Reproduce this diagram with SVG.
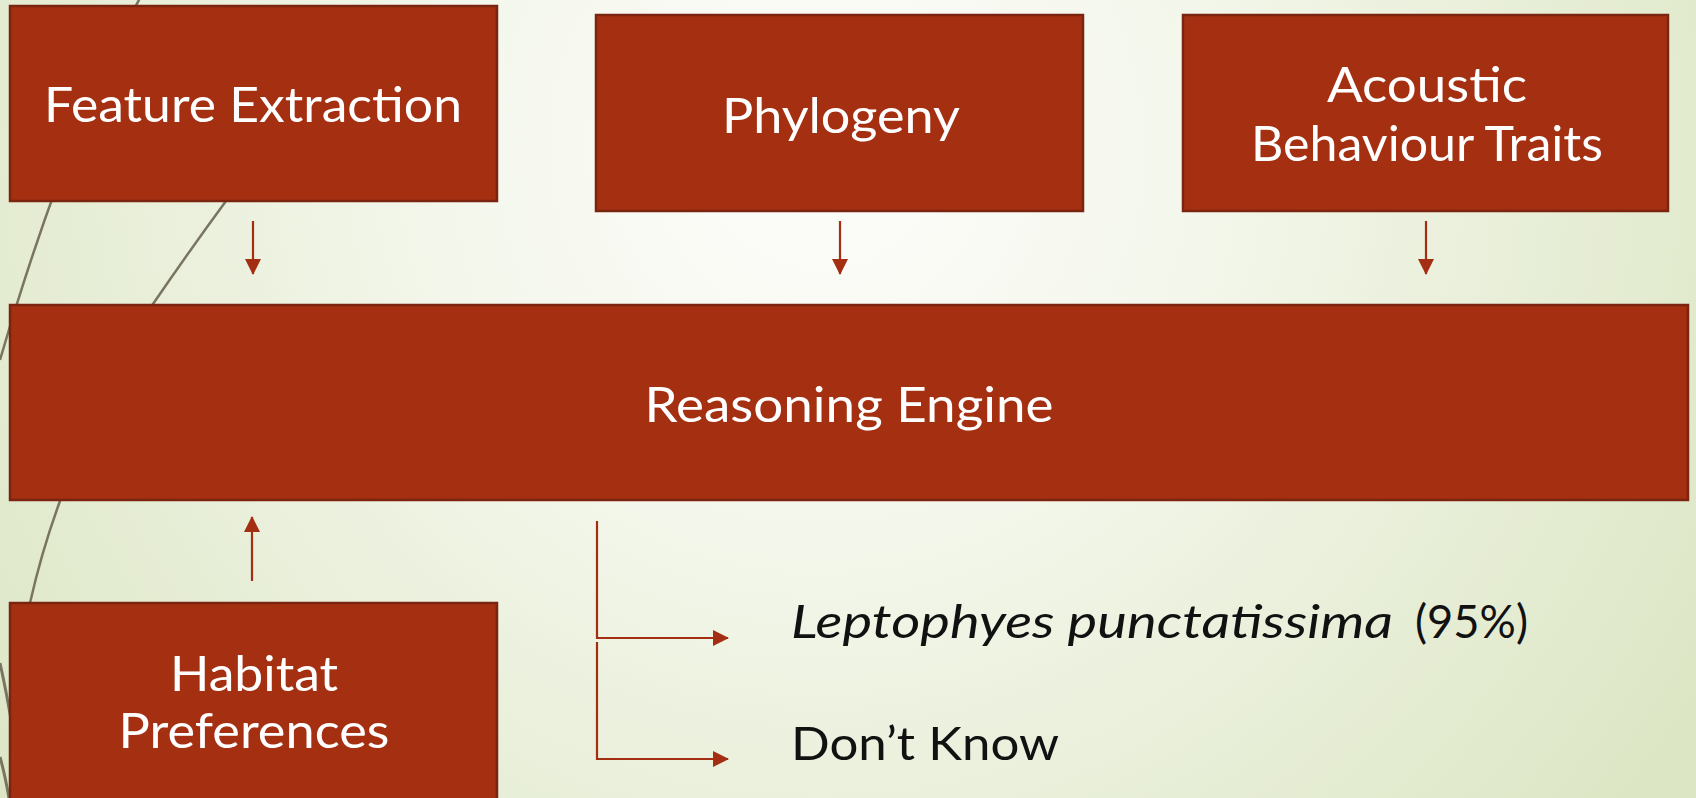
<svg xmlns="http://www.w3.org/2000/svg" width="1696" height="798" viewBox="0 0 1696 798">
<defs>
<radialGradient id="bg" cx="820" cy="150" r="1050" gradientUnits="userSpaceOnUse">
<stop offset="0" stop-color="#fdfdfb"/>
<stop offset="0.35" stop-color="#f4f7ec"/>
<stop offset="1" stop-color="#dce6c4"/>
</radialGradient>
<marker id="ah" viewBox="0 0 16 16" refX="15" refY="8" markerWidth="16" markerHeight="16" markerUnits="userSpaceOnUse" orient="auto">
<path d="M0,0 L16,8 L0,16 Z" fill="#a32e11"/>
</marker>
<style>
.box{fill:#a42f11;stroke:#7b2410;stroke-width:2.5}
.lbl{font-family:Lato,"Liberation Sans",sans-serif;font-size:48px;fill:#ffffff;text-anchor:middle}
.out{font-family:Lato,"Liberation Sans",sans-serif;font-size:47px;fill:#111111}
.con{stroke:#a32e11;stroke-width:2.2;fill:none}
.deco{fill:none;stroke:#7a7560}
</style>
</defs>
<rect width="1696" height="798" fill="url(#bg)"/>
<g id="decoration">
<path class="deco" d="M150 -20 Q 70 120 0 360" stroke="#d2d6c4" stroke-width="2.5"/>
<path class="deco" d="M262 150 Q 240 178 226 201 Q 190 250 153 304 Q 95 400 60 501 Q 42 550 30 603 L 18 700" stroke-width="2.5"/>
<path class="deco" d="M0 663 Q 6 690 12 725" stroke-width="3"/>
<path class="deco" d="M0 757 Q 5 775 9 798" stroke-width="3"/>
</g>
<g id="connectors">
<line class="con" x1="253" y1="221" x2="253" y2="274" marker-end="url(#ah)"/>
<line class="con" x1="840" y1="221" x2="840" y2="274" marker-end="url(#ah)"/>
<line class="con" x1="1426" y1="221" x2="1426" y2="274" marker-end="url(#ah)"/>
<line class="con" x1="252" y1="581" x2="252" y2="517" marker-end="url(#ah)"/>
<path class="con" d="M597 521 L597 638 L728 638" marker-end="url(#ah)"/>
<path class="con" d="M597 642 L597 759 L728 759" marker-end="url(#ah)"/>
</g>
<g id="feature-extraction">
<rect class="box" x="10" y="6" width="487" height="195"/>
<text class="lbl" x="253" y="122" textLength="418" lengthAdjust="spacingAndGlyphs">Feature Extraction</text>
</g>
<g id="phylogeny">
<rect class="box" x="596" y="15" width="487" height="196"/>
<text class="lbl" x="841" y="133" textLength="238" lengthAdjust="spacingAndGlyphs">Phylogeny</text>
</g>
<g id="acoustic-behaviour-traits">
<rect class="box" x="1183" y="15" width="485" height="196"/>
<text class="lbl" x="1427" y="102" textLength="200" lengthAdjust="spacingAndGlyphs">Acoustic</text>
<text class="lbl" x="1427" y="161" textLength="352" lengthAdjust="spacingAndGlyphs">Behaviour Traits</text>
</g>
<g id="reasoning-engine">
<rect class="box" x="10" y="305" width="1678" height="195"/>
<text class="lbl" x="849" y="422" textLength="409" lengthAdjust="spacingAndGlyphs">Reasoning Engine</text>
</g>
<g id="habitat-preferences">
<rect class="box" x="10" y="603" width="487" height="210"/>
<text class="lbl" x="254" y="691" textLength="168" lengthAdjust="spacingAndGlyphs">Habitat</text>
<text class="lbl" x="254" y="748" textLength="271" lengthAdjust="spacingAndGlyphs">Preferences</text>
</g>
<g id="output-species">
<text class="out" x="791" y="638" font-style="italic" textLength="602" lengthAdjust="spacingAndGlyphs">Leptophyes punctatissima</text>
<text class="out" x="1415" y="638" textLength="113" lengthAdjust="spacingAndGlyphs">(95%)</text>
</g>
<g id="output-unknown">
<text class="out" x="791" y="760" textLength="268" lengthAdjust="spacingAndGlyphs">Don’t Know</text>
</g>
</svg>
